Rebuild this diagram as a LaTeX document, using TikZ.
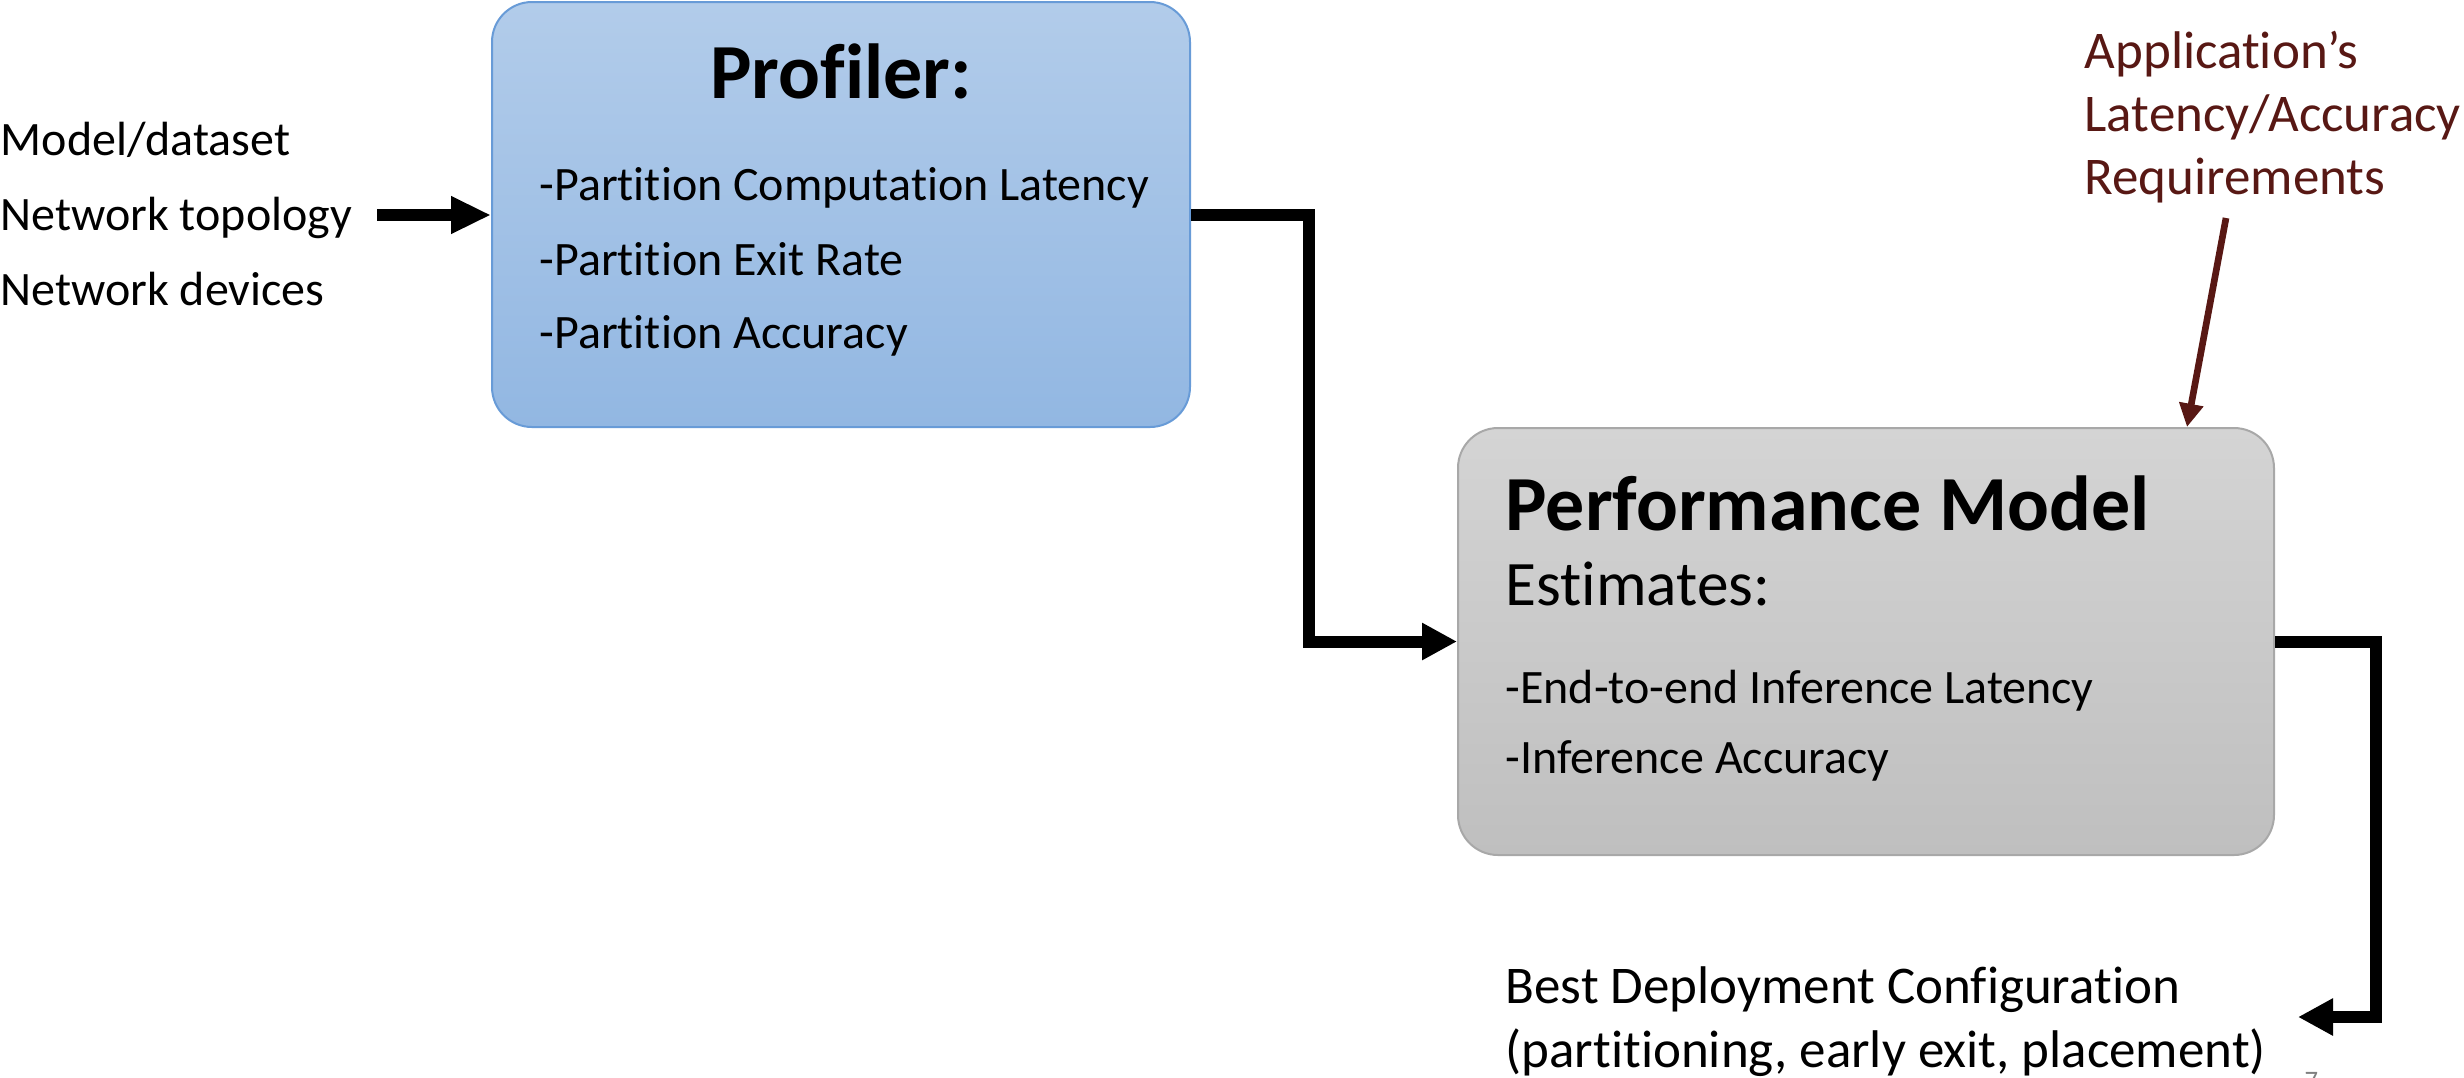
\documentclass[tikz,border=0pt]{standalone}
\usepackage{fontspec}
\setmainfont{Carlito}[Ligatures={NoCommon,NoContextual}]
\usetikzlibrary{arrows.meta,calc}
\definecolor{profTop}{RGB}{178,204,234}
\definecolor{profBot}{RGB}{146,183,226}
\definecolor{profLine}{RGB}{104,155,215}
\definecolor{perfTop}{RGB}{212,212,212}
\definecolor{perfBot}{RGB}{191,191,191}
\definecolor{perfLine}{RGB}{168,168,168}
\definecolor{reqRed}{RGB}{88,24,20}
\tikzset{
  txt/.style={anchor=base west,inner sep=0pt,font=\fontsize{14.4pt}{17pt}\selectfont},
  txtbig/.style={anchor=base west,inner sep=0pt,font=\fontsize{15.9pt}{19pt}\selectfont},
  ttl/.style={inner sep=0pt,font=\bfseries\fontsize{23.4pt}{28pt}\selectfont},
  rbox/.style={rounded corners=12pt,line width=0.6pt,inner sep=0pt},
  conn/.style={line width=3.6pt,-{Triangle[length=10.5pt,width=10.5pt]}},
  reqarrow/.style={draw=reqRed,line width=2pt,-{Triangle[length=7pt,width=7pt]}}
}
\begin{document}
\begin{tikzpicture}[x=0.3pt,y=-0.3pt]
\useasboundingbox (0,0) rectangle (2464,1077);
% boxes
\node[rbox,draw=profLine,top color=profTop,bottom color=profBot,
      minimum width=209.4pt,minimum height=127.5pt] (prof) at (841,214.5) {};
\node[rbox,draw=perfLine,top color=perfTop,bottom color=perfBot,
      minimum width=244.8pt,minimum height=128.1pt] (perf) at (1866,641.5) {};
% input texts
\node[txt] (in1) at (0,155) {Model/dataset};
\node[txt] (in2) at (0,230) {Network topology};
\node[txt] (in3) at (0,305) {Network devices};
% profiler texts
\node[ttl,anchor=base] (proft) at (841,98) {Profiler:};
\node[txt] (p1) at (539,200) {-Partition Computation Latency};
\node[txt] (p2) at (539,275) {-Partition Exit Rate};
\node[txt] (p3) at (539,348) {-Partition Accuracy};
% performance model texts
\node[ttl,anchor=base west] (perft) at (1505,530) {Performance Model};
\node[anchor=base west,inner sep=0pt,font=\fontsize{19pt}{23pt}\selectfont] (est) at (1505,605) {Estimates:};
\node[txt] (e1) at (1505,703) {-End-to-end Inference Latency};
\node[txt] (e2) at (1505,773) {-Inference Accuracy};
% output texts
\node[txtbig] (o1) at (1505,1003) {Best Deployment Configuration};
\node[txtbig] (o2) at (1505,1067) {(partitioning, early exit, placement)};
% requirement texts
\node[txtbig,text=reqRed] (r1) at (2084,68) {Application’s};
\node[txtbig,text=reqRed] (r2) at (2084,131) {Latency/Accuracy};
\node[txtbig,text=reqRed] (r3) at (2084,194) {Requirements};
% slide number (cut off at the page edge)
\begin{scope}
\clip (0,0) rectangle (2464,1077);
\node[anchor=base west,inner sep=0pt,text=gray,font=\fontsize{8pt}{9pt}\selectfont] (num) at (2304,1089) {7};
\end{scope}
% connectors
\coordinate (inStart) at (377,215);
\draw[conn,-{Triangle[length=12pt,width=10.5pt]}] (inStart) -- (inStart -| prof.west);
\draw[conn] (prof.east) -- ++(118,0) |- (perf.west);
\coordinate (outEnd) at (2298,1017);
\draw[conn] (perf.east) -- ++(101,0) |- (outEnd);
\coordinate (reqStart) at (2226,218);
\draw[reqarrow] (reqStart) -- ($(perf.north west)+(730,0)$);
\end{tikzpicture}
\end{document}
